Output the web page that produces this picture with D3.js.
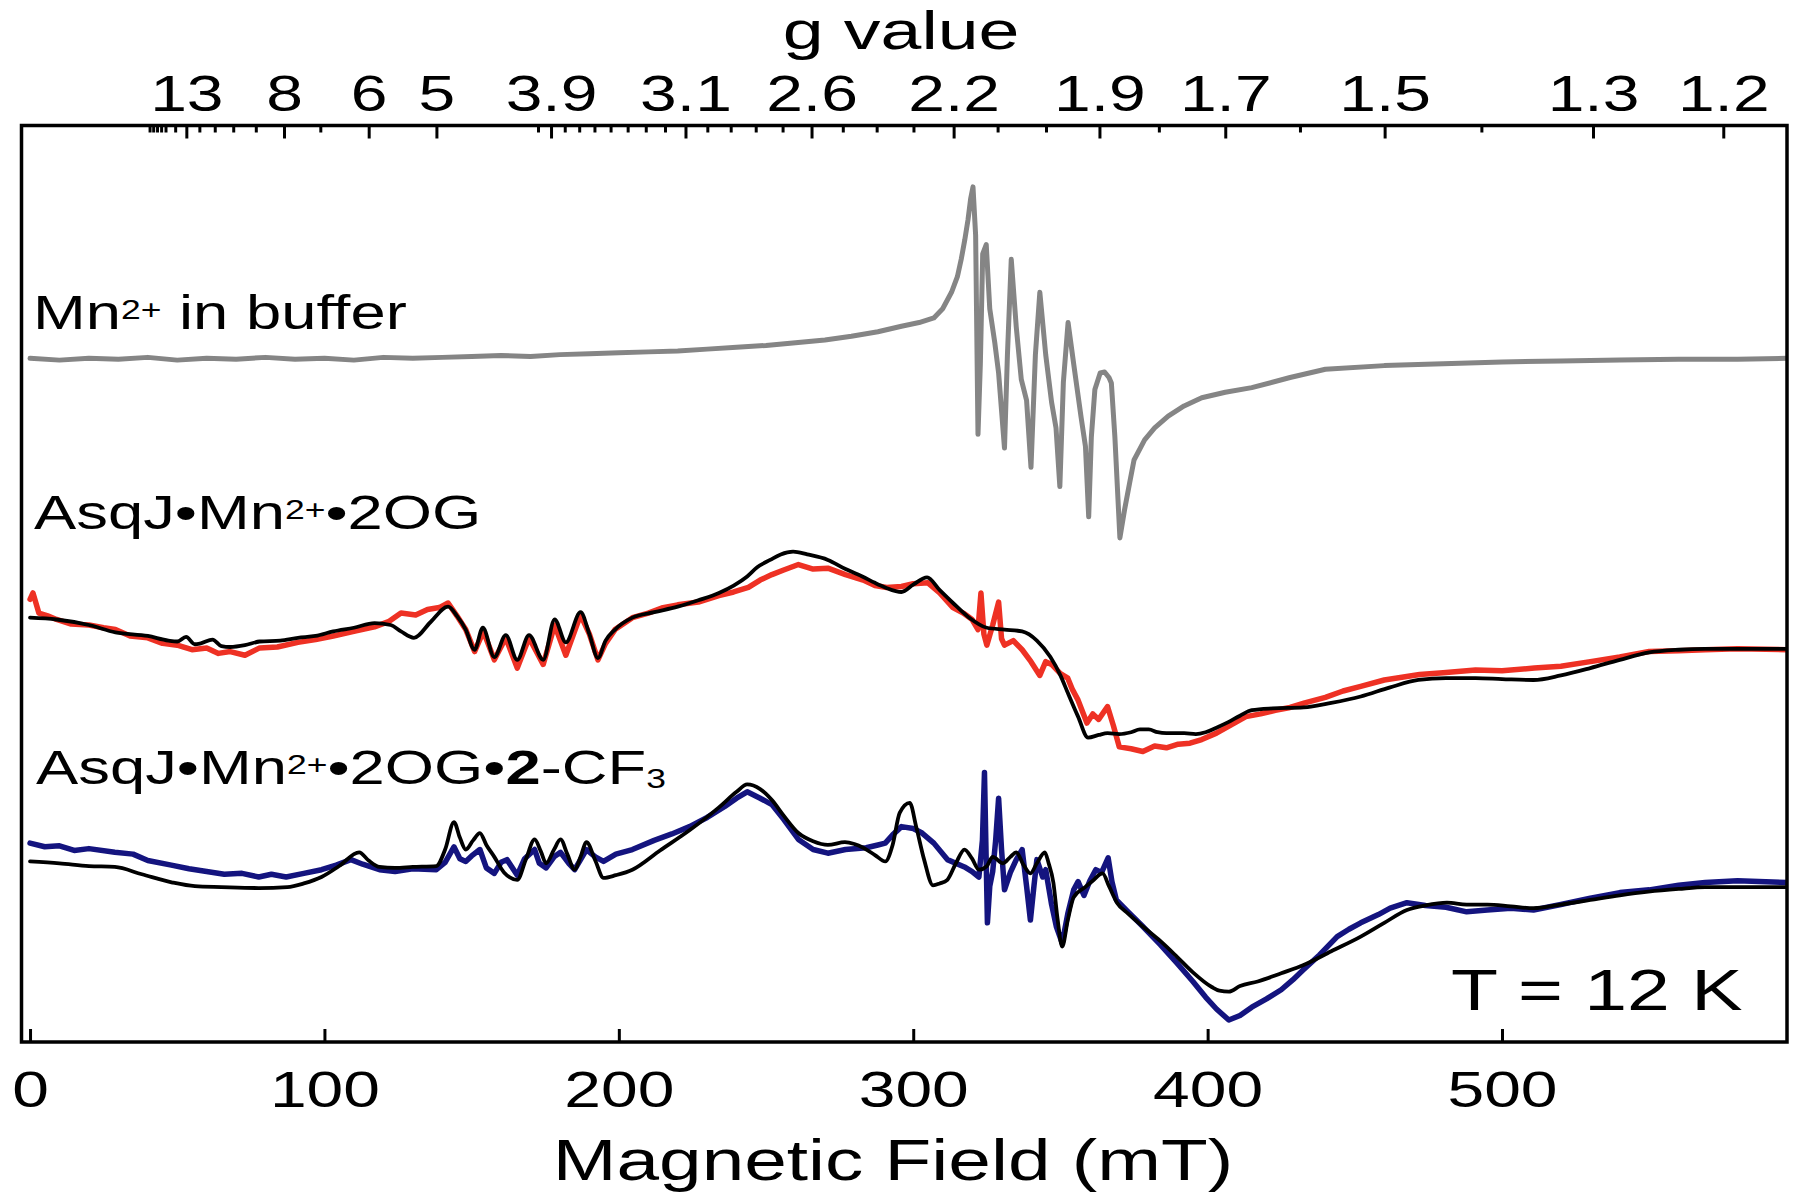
<!DOCTYPE html>
<html><head><meta charset="utf-8">
<script src="https://cdn.jsdelivr.net/npm/d3@7"></script>
<style>
body{margin:0;background:#fff}
svg{display:block}
text{font-family:"Liberation Sans",Arial,Helvetica,sans-serif;fill:#000}
</style>
</head><body>
<svg id="chart" width="1800" height="1200"></svg>
<script>
// ---------------- data ----------------
const fieldDomain = [-2.9, 596.8];          // mT
const signalDomain = [0, 100];              // arbitrary units (stacked)
const fieldTicks = [0, 100, 200, 300, 400, 500];
const freqGHz = 9.66;                       // microwave frequency
const gMajor = [13, 8, 6, 5, 3.9, 3.1, 2.6, 2.2, 1.9, 1.7, 1.5, 1.3, 1.2];
const gMinor = [17, 16.5, 16, 15.5, 15, 14, 12, 11, 10, 9, 7, 4.0, 3.8, 3.7, 3.6, 3.5, 3.4, 3.3, 3.2,
                3.0, 2.9, 2.8, 2.7, 2.5, 2.4, 2.3, 2.1, 2.0, 1.8, 1.6, 1.4];

// Mn2+ in buffer (grey)
const mnBuffer = [[0,74.6],[10,74.4],[20,74.6],[30,74.5],[40,74.7],[50,74.4],[60,74.6],[70,74.5],[80,74.7],[90,74.5],[100,74.6],[110,74.4],[120,74.7],[130,74.6],[140,74.7],[150,74.8],[160,74.9],[170,74.8],[180,75.0],[190,75.1],[200,75.2],[210,75.3],[220,75.4],[230,75.6],[240,75.8],[250,76.0],[260,76.3],[270,76.6],[279,77.0],[288,77.5],[296,78.1],[302,78.5],[307,79.0],[310,80.0],[313,81.8],[315,83.5],[316.3,85.4],[317.5,87.5],[318.6,89.7],[319.5,92.0],[320.3,93.3],[321.2,88.0],[322,66.3],[322.8,74],[323.6,86],[324.8,87.0],[326,80],[327.7,76.3],[329,73],[331,64.8],[332,75],[333.3,85.4],[335,78],[336.7,72.3],[338.5,70],[340,62.7],[341.5,75],[343,81.8],[345,75],[347,69.8],[348.5,67],[349.8,60.6],[351,72],[352.6,78.5],[354.5,74],[357,68.2],[358.5,65],[359.6,57.3],[360.5,66],[361.7,71.2],[363.5,73.0],[365,73.1],[366.5,72.5],[367.3,71.9],[368.5,66],[370.2,55.0],[371.8,58.1],[373.5,61],[375,63.5],[378.6,65.7],[382,67.0],[386.6,68.3],[392,69.4],[398,70.3],[406,70.9],[415,71.4],[428,72.5],[440,73.4],[460,73.8],[480,74.0],[500,74.2],[520,74.3],[540,74.4],[560,74.5],[580,74.5],[596.8,74.6]];

// AsqJ·Mn2+·2OG experiment (red) and simulation (black)
const redExp = [[0,48.3],[1,49.0],[3,46.8],[6,46.5],[9,46.1],[14,45.6],[20,45.5],[25,45.2],[29,45.0],[34,44.3],[40,44.1],[45,43.5],[50,43.3],[55,42.8],[60,43.0],[64,42.4],[68,42.6],[73,42.2],[78,43.0],[84,43.1],[91,43.6],[97,43.9],[103,44.3],[110,44.8],[117,45.3],[122,45.9],[126,46.8],[131,46.6],[135,47.2],[139,47.4],[142,47.9],[145,46.5],[148,45.0],[151,42.6],[154,44.8],[157.7,41.7],[161.6,44.1],[165.5,40.8],[169.5,44.1],[174.3,41.2],[178.2,45.5],[182,42.2],[187,46.6],[190,44.5],[192.9,41.7],[195.5,43.5],[198.7,45.0],[204.6,46.3],[210,46.8],[215,47.4],[220,47.7],[227,48.0],[234,48.7],[239,49.1],[244,49.6],[248,50.4],[252,51.0],[256,51.5],[261,52.1],[266,51.6],[271,51.7],[277,51.0],[283,50.4],[287,49.8],[291,49.6],[296,49.7],[300,50.0],[305,50.1],[309,49.0],[313.5,47.4],[317,46.8],[320,46.1],[322,45.0],[323,49.0],[324,44.5],[325,43.3],[327,45.5],[329,48.0],[330,44.0],[331,43.3],[334,43.8],[337,42.8],[340,41.5],[343,40.0],[345,41.5],[347,41.2],[350,40.2],[352.5,39.7],[354,38.5],[356,37.3],[359,34.8],[361,35.8],[363,35.2],[366,36.6],[368,34.5],[370,32.2],[374,32.0],[378,31.7],[382,32.3],[386,32.1],[390,32.5],[394,32.6],[398,33.0],[403,33.7],[408,34.6],[413,35.5],[418,35.8],[423,36.2],[428,36.5],[433,37.0],[440,37.6],[446,38.3],[452,38.8],[460,39.5],[466,39.8],[472,40.1],[480,40.3],[491,40.6],[500,40.5],[511,40.8],[520,41.0],[530,41.5],[540,42.0],[550,42.6],[560,42.7],[569,42.8],[580,42.9],[596.8,42.8]];
const redSim = [[0,46.3],[9,46.1],[20,45.5],[29,44.7],[40,44.3],[47,43.8],[50,43.7],[53,44.2],[56,43.4],[58,43.5],[62,43.9],[65,43.2],[68,43.1],[73,43.3],[78,43.7],[85,43.8],[91,44.1],[97,44.3],[103,44.8],[110,45.2],[117,45.7],[122.5,45.5],[126,44.8],[130.4,44.1],[136,45.8],[142,47.5],[145,46.5],[148,45.0],[151,42.8],[153.8,45.2],[157.7,42.0],[161.6,44.4],[165.5,41.7],[169.5,44.4],[174.3,41.7],[178.2,46.1],[182,43.6],[187,46.9],[190,44.5],[192.9,41.9],[195.5,43.8],[198.7,45.0],[204.6,46.3],[212,46.9],[220,47.5],[227,48.2],[234,49.0],[239,49.8],[243.6,50.8],[247,51.8],[251.4,52.6],[255,53.2],[259.2,53.5],[264,53.2],[271,52.6],[277,51.6],[282.7,50.8],[287,50.1],[290.5,49.6],[296,49.1],[300,49.9],[304.7,50.7],[309,49.3],[313.5,47.9],[319,46.3],[325,45.2],[331,45.0],[337,44.8],[342,43.8],[346.6,42.0],[350,40.0],[352.5,38.1],[356,35.5],[359.4,33.2],[363,33.5],[366,33.7],[370,33.6],[374,33.8],[377,34.1],[380,34.1],[383,33.8],[386,33.7],[392,33.7],[396,33.6],[399.3,33.8],[403,34.3],[407,34.9],[411,35.6],[415,36.2],[422,36.4],[432.6,36.5],[442,37.0],[452,37.7],[462,38.7],[471.6,39.5],[481,39.7],[491,39.7],[500,39.6],[510.7,39.5],[520,40.0],[530,40.8],[540,41.7],[550,42.5],[560,42.8],[569,42.9],[596.8,42.9]];

// AsqJ·Mn2+·2OG·2-CF3 experiment (blue) and simulation (black)
const blueExp = [[0,21.7],[5,21.3],[10,21.4],[15,20.9],[20,21.1],[28.8,20.7],[35,20.5],[40,19.8],[48,19.3],[54,18.9],[60,18.6],[66,18.3],[72,18.4],[77.7,18.0],[82,18.3],[87,18.0],[93,18.4],[99,18.8],[104,19.3],[109,19.9],[113,19.4],[118.7,18.8],[124,18.6],[130,18.9],[138,18.8],[141,19.6],[144,21.3],[146,20.0],[148,19.7],[150,20.3],[152.8,21.0],[155,19.0],[157.7,18.4],[160,19.6],[162,19.9],[165.5,18.2],[168,20.0],[171.4,21.0],[173,19.5],[175.3,19.0],[178,20.2],[180.2,20.7],[183,19.5],[185,18.8],[189,21.0],[192,20.2],[194.8,19.7],[199,20.5],[204.6,21.0],[212,22.0],[218,22.7],[224,23.5],[230,24.5],[236,25.7],[240,26.6],[243.6,27.3],[248,26.6],[252,25.9],[256,24.3],[261,22.1],[266,21.0],[271,20.6],[277,21.0],[284,21.2],[288,21.5],[290.5,21.7],[293,22.6],[296,23.5],[300,23.3],[303,22.8],[307,21.7],[311.6,19.9],[317.4,19.1],[320,18.6],[322.3,18.0],[323.5,22],[324.2,29.4],[325.2,13.0],[326,17],[327,18.6],[328,22],[329,26.6],[330,21],[331,16.6],[333,18.5],[335,19.9],[337,21.0],[338.5,17],[339.8,13.3],[341,17],[342,19.9],[344,18.0],[345,18.8],[347,15],[348.6,12.6],[350.6,10.8],[352.5,14],[354.5,16.6],[356,17.5],[358,16.0],[360,17.6],[362,18.8],[364,18.5],[366.2,20.1],[367.5,17.5],[369,15.5],[373,14.2],[378,12.6],[384,10.6],[389.6,8.6],[395,6.6],[399.3,4.9],[403,3.6],[407.2,2.4],[411,2.9],[415,3.8],[420,4.7],[425,5.7],[429,6.8],[432.6,7.9],[438,9.5],[444,11.5],[448,12.3],[452,13.0],[458,13.9],[462,14.6],[467.7,15.2],[474,14.9],[481,14.7],[488,14.2],[495,14.4],[503,14.6],[510.7,14.4],[520,15.0],[530,15.7],[540,16.3],[550,16.6],[560,17.1],[569,17.4],[580,17.6],[596.8,17.4]];
const blueSim = [[0,19.7],[10,19.5],[20,19.2],[28.8,19.1],[38,18.3],[48.4,17.4],[56,17.0],[65,16.9],[77.7,16.8],[87.4,16.9],[93,17.3],[99,18.0],[105,19.2],[111.8,20.7],[115,19.8],[118.7,19.1],[124,19.0],[130,19.1],[138,19.2],[141,21],[144,24.0],[146,22.3],[148,21.0],[150.5,22.0],[152.8,22.8],[155,21.5],[157.7,20.2],[161,18.5],[165.5,17.7],[168.5,20.0],[171.4,22.1],[173.5,20.8],[175.3,19.5],[178,21.0],[180.2,22.1],[182.5,20.5],[185,18.8],[187,20.2],[189,21.8],[192,19.8],[194.8,17.9],[199,18.2],[204.6,18.8],[214,20.9],[224,23.1],[234,25.6],[240,27.3],[243.6,28.1],[248,27.6],[252,26.4],[256,24.7],[261,22.8],[266,21.9],[271,21.5],[276.8,21.8],[280,21.6],[283,21.2],[287,20.4],[290.5,19.7],[293,21.5],[295.4,25.0],[298.8,26.1],[301,23.5],[303.7,19.9],[306.7,17.1],[309,17.3],[311.6,17.7],[314.5,19.5],[317.4,21.0],[320,20.0],[322.3,18.8],[325,19.2],[327,20.2],[330.5,19.5],[333,20.2],[335,20.7],[337.5,19.3],[339.8,18.4],[342,19.5],[344.7,20.7],[346,19.5],[347.6,17.4],[349,13.5],[350.6,10.4],[352.5,13.3],[354.5,15.8],[358.4,16.9],[361,17.6],[364.3,18.4],[366.5,17.0],[369.2,15.2],[373,14.0],[378,12.6],[384,11.0],[389.6,9.3],[395,7.6],[401.4,6.0],[404,5.6],[407.2,5.5],[411,6.1],[417,6.6],[425,7.5],[432.6,8.4],[442,9.9],[452,11.5],[460,13.0],[467.7,14.4],[474,14.9],[481.3,15.2],[488,15.0],[495,15.0],[503,14.8],[510.7,14.6],[520,15.0],[530,15.5],[540,16.0],[549.7,16.4],[560,16.7],[569,16.9],[580,16.9],[596.8,16.9]];

// ---------------- chart ----------------
const plot = {left: 21.5, right: 1787, top: 125.5, bottom: 1042};
const SX = 1.32; // horizontal text stretch of the original figure

const svg = d3.select("#chart");
const x = d3.scaleLinear().domain(fieldDomain).range([plot.left, plot.right]);
const y = d3.scaleLinear().domain(signalDomain).range([plot.bottom, plot.top]);
const gToField = g => 71.4477 * freqGHz / g;   // B(mT) = h·ν / (g·μB)

svg.append("defs").append("clipPath").attr("id", "clip")
  .append("rect").attr("x", plot.left).attr("y", plot.top)
  .attr("width", plot.right - plot.left).attr("height", plot.bottom - plot.top);

const line = d3.line().x(d => x(d[0])).y(d => y(d[1]));
const smooth = d3.line().x(d => x(d[0])).y(d => y(d[1])).curve(d3.curveMonotoneX);

const traces = svg.append("g").attr("clip-path", "url(#clip)")
  .attr("fill", "none").attr("stroke-linejoin", "round").attr("stroke-linecap", "round");

traces.append("path").datum(mnBuffer).attr("d", line).attr("stroke", "#858585").attr("stroke-width", 5);
traces.append("path").datum(redExp).attr("d", line).attr("stroke", "#ee3124").attr("stroke-width", 5.5);
traces.append("path").datum(redSim).attr("d", smooth).attr("stroke", "#000").attr("stroke-width", 3.8);
traces.append("path").datum(blueExp).attr("d", line).attr("stroke", "#14147f").attr("stroke-width", 5.5);
traces.append("path").datum(blueSim).attr("d", smooth).attr("stroke", "#000").attr("stroke-width", 3.8);

// bottom axis
const axB = svg.append("g").attr("transform", `translate(0,${plot.bottom})`)
  .call(d3.axisBottom(x).tickValues(fieldTicks).tickSize(-13).tickPadding(30).tickFormat(d3.format("d")));
// top axis (g value), major + minor
const axT = svg.append("g").attr("transform", `translate(0,${plot.top})`)
  .call(d3.axisTop(x).tickValues(gMajor.map(gToField)).tickSize(-13).tickPadding(15)
    .tickFormat((d, i) => String(gMajor[i])));
const axTm = svg.append("g").attr("transform", `translate(0,${plot.top})`)
  .call(d3.axisTop(x).tickValues(gMinor.map(gToField)).tickSize(-7).tickFormat(""));

[axB, axT, axTm].forEach(a => {
  a.select(".domain").remove();
  a.selectAll(".tick line").attr("stroke", "#000").attr("stroke-width", 3);
  a.selectAll(".tick text").attr("font-size", 50).attr("fill", "#000")
    .attr("font-family", '"Liberation Sans",Arial,sans-serif')
    .attr("transform", `scale(${SX},1)`);
});

// frame
svg.append("rect").attr("x", plot.left).attr("y", plot.top)
  .attr("width", plot.right - plot.left).attr("height", plot.bottom - plot.top)
  .attr("fill", "none").attr("stroke", "#000").attr("stroke-width", 3.5);

// text helper
function label(parts, x0, yb, size, anchor = "start", sx = SX) {
  const t = svg.append("text").attr("transform", `translate(${x0},${yb}) scale(${sx},1)`)
    .attr("font-size", size).attr("text-anchor", anchor);
  let shift = 0;
  parts.forEach(p => {
    const s = t.append("tspan").text(p.t);
    let target = 0;
    if (p.sup) { s.attr("font-size", size * 0.56); target = -size * 0.2; }
    if (p.sub) { s.attr("font-size", size * 0.56); target = size * 0.09; }
    if (p.bold) s.attr("font-weight", "bold");
    s.attr("dy", target - shift);
    shift = target;
  });
  return t;
}

label([{t: "g value"}], 901, 49, 54, "middle", 1.36);
label([{t: "Magnetic Field (mT)"}], 893, 1180, 58, "middle");
label([{t: "Mn"}, {t: "2+", sup: true}, {t: " in buffer"}], 33, 329, 48);
label([{t: "AsqJ•Mn"}, {t: "2+", sup: true}, {t: "•2OG"}], 34, 529, 48);
label([{t: "AsqJ•Mn"}, {t: "2+", sup: true}, {t: "•2OG•"}, {t: "2", bold: true}, {t: "-CF"}, {t: "3", sub: true}], 36, 784, 48);
label([{t: "T = 12 K"}], 1451, 1010, 57, "start", 1.35);
</script>
</body></html>
